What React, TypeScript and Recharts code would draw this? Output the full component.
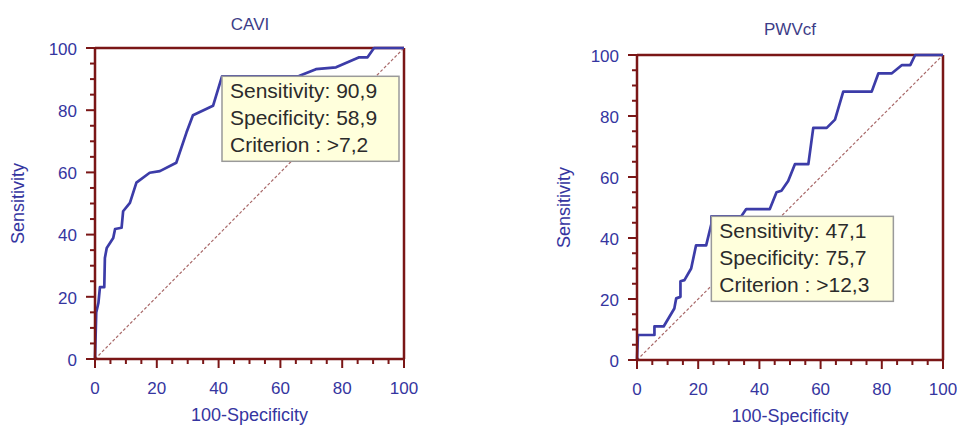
import { LineChart, Line, XAxis, YAxis, ReferenceLine, ReferenceDot } from "recharts"

// tick positions (minor every 5, labelled every 20)
const TICKS = [0, 5, 10, 15, 20, 25, 30, 35, 40, 45, 50, 55, 60, 65, 70, 75, 80, 85, 90, 95, 100]

// CAVI ROC curve: 100-Specificity vs Sensitivity
const caviFpr = [0, 0.4, 1.1, 1.6, 3.0, 3.2, 3.8, 5.9, 6.5, 8.6, 9.1, 11.3, 13.4, 17.7, 21.0, 26.3, 29.6, 31.7, 38.2, 41.1, 55.0, 66.0, 71.5, 78.0, 85.5, 88.2, 90.3, 100]
const caviSens = [0, 15.0, 18.0, 23.1, 23.1, 32.5, 35.7, 38.9, 41.8, 42.2, 47.5, 50.2, 56.7, 59.9, 60.4, 63.1, 72.8, 78.4, 81.4, 90.9, 90.9, 91.0, 93.2, 93.8, 97.0, 97.0, 100, 100]

// PWVcf ROC curve
const pwvFpr = [0, 0.3, 5.7, 5.7, 8.7, 10.6, 12.2, 12.8, 14.2, 14.2, 15.5, 17.7, 19.3, 22.6, 24.3, 24.3, 34.1, 35.7, 43.4, 45.6, 47.2, 49.4, 51.6, 56.0, 57.6, 62.0, 64.7, 67.4, 76.7, 78.9, 83.3, 86.6, 89.3, 90.9, 100]
const pwvSens = [0, 8.2, 8.2, 11.0, 11.0, 14.2, 16.9, 20.2, 20.7, 25.8, 26.2, 30.0, 37.6, 37.6, 44.6, 47.1, 47.1, 49.5, 49.5, 55.0, 55.5, 58.7, 64.2, 64.2, 76.1, 76.1, 78.8, 88.0, 88.0, 94.0, 94.0, 96.7, 96.7, 100, 100]

// reference diagonal
const diagX = [0, 100]
const diagY = [0, 100]

// optimal criterion: sensitivity, specificity, cut-off value
const cutoffNames = ["Sensitivity", "Specificity", "Criterion "]
const caviCutoff = [90.9, 58.9, 7.2]
const pwvCutoff = [47.1, 75.7, 12.3]

const AXIS = "#7a1616"
const CURVE = "#3c3ca8"
const TEXT = "#3535a0"
const FONT = '"Liberation Sans", Arial, Helvetica, sans-serif'

const comma = (v: number) => v.toFixed(1).replace(".", ",")

function XTick({ x, y, payload }: any) {
  const major = payload.value % 20 === 0
  return (
    <g>
      <line x1={x} x2={x} y1={y} y2={y + (major ? 9 : 5)} stroke={AXIS} strokeWidth={2} />
      {major && (
        <text x={x} y={y + 35} textAnchor="middle" fill={TEXT} fontSize={17} fontFamily={FONT}>
          {payload.value}
        </text>
      )}
    </g>
  )
}

function YTick({ x, y, payload }: any) {
  const major = payload.value % 20 === 0
  return (
    <g>
      <line x1={x} x2={x - (major ? 9 : 5)} y1={y} y2={y} stroke={AXIS} strokeWidth={2} />
      {major && (
        <text x={x - 18} y={y} dy="0.4em" textAnchor="end" fill={TEXT} fontSize={17} fontFamily={FONT}>
          {payload.value}
        </text>
      )}
    </g>
  )
}

function CriterionBox({ cx, cy, cutoff, width }: any) {
  const lines = [
    `${cutoffNames[0]}: ${comma(cutoff[0])}`,
    `${cutoffNames[1]}: ${comma(cutoff[1])}`,
    `${cutoffNames[2]}: >${comma(cutoff[2])}`,
  ]
  return (
    <g>
      <rect x={cx} y={cy} width={width} height={85} fill="#ffffdc" stroke="#9a9a9a" strokeWidth={1.5} />
      {lines.map((t, i) => (
        <text key={t} x={cx + 8} y={cy + 22 + i * 27} fill="#2b2b2b" fontSize={21} fontFamily={FONT}>
          {t}
        </text>
      ))}
    </g>
  )
}

interface RocChartProps {
  fpr: number[]
  sens: number[]
  cutoff: number[]
  boxWidth: number
  width: number
  margin: { top: number; right: number; bottom: number; left: number }
  yAxisWidth: number
  yLabelOffset: number
}

function RocChart({ fpr, sens, cutoff, boxWidth, width, margin, yAxisWidth, yLabelOffset }: RocChartProps) {
  const curve = fpr.map((x, i) => ({ x, y: sens[i] }))
  const diag = diagX.map((x, i) => ({ x, y: diagY[i] }))

  return (
    <LineChart width={width} height={425} margin={margin}>
      <XAxis
        type="number"
        dataKey="x"
        domain={[0, 100]}
        ticks={TICKS}
        interval={0}
        tickSize={0}
        tickMargin={0}
        tickLine={false}
        tick={XTick}
        axisLine={{ stroke: AXIS, strokeWidth: 2.5 }}
        height={60}
        label={{ value: "100-Specificity", position: "insideBottom", offset: -2, fill: TEXT, fontSize: 18, fontFamily: FONT }}
      />
      <YAxis
        type="number"
        dataKey="y"
        domain={[0, 100]}
        ticks={TICKS}
        interval={0}
        tickSize={0}
        tickMargin={0}
        tickLine={false}
        tick={YTick}
        axisLine={{ stroke: AXIS, strokeWidth: 2.5 }}
        width={yAxisWidth}
        label={{
          value: "Sensitivity",
          angle: -90,
          position: "insideLeft",
          offset: yLabelOffset,
          fill: TEXT,
          fontSize: 18,
          fontFamily: FONT,
          style: { textAnchor: "middle" },
        }}
      />
      <ReferenceLine y={100} stroke={AXIS} strokeWidth={2.5} />
      <ReferenceLine x={100} stroke={AXIS} strokeWidth={2.5} />
      <Line
        data={diag}
        dataKey="y"
        type="linear"
        stroke="#a86868"
        strokeWidth={1.2}
        strokeDasharray="3 2"
        dot={false}
        activeDot={false}
        isAnimationActive={false}
      />
      <Line
        data={curve}
        dataKey="y"
        type="linear"
        stroke={CURVE}
        strokeWidth={2.7}
        strokeLinejoin="round"
        dot={false}
        activeDot={false}
        isAnimationActive={false}
      />
      <ReferenceDot
        x={100 - cutoff[1]}
        y={cutoff[0]}
        r={0}
        shape={(p: any) => <CriterionBox cx={p.cx} cy={p.cy} cutoff={cutoff} width={boxWidth} />}
      />
    </LineChart>
  )
}

export default function App() {
  return (
    <div style={{ position: "absolute", left: 0, top: 0, width: 957, height: 425, background: "#fff", overflow: "hidden" }}>
      <svg width={957} height={45} style={{ position: "absolute", left: 0, top: 0 }}>
        <text x={250} y={30} textAnchor="middle" fill="#3d3d88" fontSize={17} fontFamily={FONT}>
          CAVI
        </text>
        <text x={790} y={35} textAnchor="middle" fill="#3d3d88" fontSize={17} fontFamily={FONT}>
          PWVcf
        </text>
      </svg>
      <div style={{ position: "absolute", left: 0, top: 0 }}>
        <RocChart
          fpr={caviFpr}
          sens={caviSens}
          cutoff={caviCutoff}
          boxWidth={177}
          width={420}
          margin={{ top: 48, right: 16, bottom: 6, left: 10 }}
          yAxisWidth={85}
          yLabelOffset={8}
        />
      </div>
      <div style={{ position: "absolute", left: 530, top: 0 }}>
        <RocChart
          fpr={pwvFpr}
          sens={pwvSens}
          cutoff={pwvCutoff}
          boxWidth={182}
          width={427}
          margin={{ top: 55, right: 14, bottom: 5, left: 23 }}
          yAxisWidth={84}
          yLabelOffset={11}
        />
      </div>
    </div>
  )
}
